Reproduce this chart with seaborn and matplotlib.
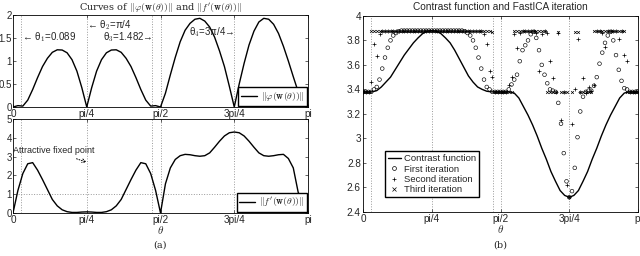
import numpy as np
import matplotlib
matplotlib.use('Agg')
import matplotlib.pyplot as plt
import seaborn as sns
from matplotlib.lines import Line2D

sns.set_style('white')
plt.rcParams.update({'font.family': ['Liberation Sans', 'DejaVu Sans'],
                     'font.size': 7.5, 'mathtext.fontset': 'cm',
                     'axes.edgecolor': 'black', 'axes.linewidth': 0.6})

# ---- data ------------------------------------------------------------------
# curves sampled every 3 degrees, 0..180
theta_deg = np.arange(0, 181, 3)

phi_norm = [0, 0.03, 0.02, 0.15, 0.38, 0.64, 0.88, 1.06, 1.19, 1.245, 1.24,
            1.18, 1.03, 0.78, 0.42, 0.0, 0.42, 0.78, 1.03, 1.18, 1.24, 1.245,
            1.19, 1.06, 0.88, 0.64, 0.38, 0.15, 0.02, 0.03, 0.0, 0.30, 0.70,
            1.08, 1.42, 1.67, 1.82, 1.91, 1.93, 1.87, 1.74, 1.52, 1.22, 0.88,
            0.45, 0.0, 0.50, 0.95, 1.35, 1.65, 1.85, 1.93, 1.91, 1.80, 1.60,
            1.32, 1.00, 0.66, 0.33, 0.10, 0.0]

fprime_norm = [0, 1.2, 2.1, 2.62, 2.68, 2.28, 1.78, 1.25, 0.72, 0.38, 0.17,
               0.07, 0.03, 0.03, 0.05, 0.06, 0.05, 0.03, 0.03, 0.07, 0.17,
               0.38, 0.72, 1.25, 1.78, 2.28, 2.68, 2.62, 2.1, 1.2, 0.0, 1.55,
               2.4, 2.85, 3.05, 3.12, 3.1, 3.05, 3.02, 3.05, 3.2, 3.5, 3.82,
               4.1, 4.27, 4.31, 4.27, 4.1, 3.82, 3.5, 3.2, 3.05, 3.02, 3.05,
               3.1, 3.12, 2.9, 2.4, 1.1, 0.55, 0.0]

contrast = [3.38, 3.38, 3.38, 3.39, 3.42, 3.46, 3.50, 3.56, 3.62, 3.68, 3.73,
            3.78, 3.82, 3.855, 3.875, 3.88, 3.875, 3.855, 3.82, 3.78, 3.72,
            3.65, 3.58, 3.51, 3.46, 3.42, 3.40, 3.385, 3.38, 3.38, 3.38, 3.38,
            3.38, 3.37, 3.33, 3.26, 3.19, 3.11, 3.02, 2.92, 2.83, 2.73, 2.65,
            2.575, 2.535, 2.52, 2.535, 2.575, 2.65, 2.73, 2.83, 2.92, 3.02,
            3.11, 3.19, 3.26, 3.33, 3.37, 3.38, 3.38, 3.38]

# FastICA iterates on a 101-point grid over [0, pi]
first_iter = ([3.38] * 4 + [3.40, 3.42, 3.48, 3.57, 3.66, 3.74, 3.80, 3.84,
              3.86, 3.875] + [3.88] * 23 +
              [3.875, 3.86, 3.84, 3.80, 3.74, 3.66, 3.57, 3.48, 3.42, 3.40] +
              [3.38] * 6 +
              [3.40, 3.44, 3.48, 3.52, 3.63, 3.72, 3.76, 3.80, 3.85, 3.87,
               3.82, 3.72, 3.60, 3.52, 3.45, 3.40, 3.39, 3.38, 3.29, 3.12,
               2.88, 2.65, 2.52, 2.57, 2.76, 3.01, 3.22, 3.34, 3.38, 3.39,
               3.39, 3.43, 3.50, 3.61, 3.70, 3.78, 3.84, 3.87, 3.80, 3.68,
               3.56, 3.47, 3.41, 3.40] + [3.38] * 4)

second_iter = ([3.38] * 3 + [3.46, 3.77, 3.67, 3.85] + [3.88] * 37 +
               [3.85, 3.77, 3.55, 3.50] + [3.38] * 5 +
               [3.44, 3.50, 3.85, 3.74, 3.86] + [3.88] * 5 +
               [3.86, 3.55, 3.85, 3.88, 3.86, 3.63, 3.49, 3.38, 3.86, 3.15,
                3.38, 2.62, 2.52, 3.12, 3.40, 3.81, 3.38, 3.49, 3.37, 3.42,
                3.39, 3.44, 3.88, 3.88, 3.86, 3.75] + [3.88] * 4 +
               [3.81, 3.88, 3.68, 3.63] + [3.38] * 4)

third_iter = ([3.38] * 3 + [3.88] * 44 + [3.87] + [3.38] * 7 + [3.88] * 12 +
              [3.38] * 4 + [3.87] + [3.38] * 3 + [2.52] + [3.38] +
              [3.87] * 2 + [3.38] * 5 + [3.88] * 12 + [3.38] * 5)

iter_grid = np.linspace(0, np.pi, len(first_iter))

fixed_points = [0.089, np.pi / 4, 1.482, np.pi / 2, 3 * np.pi / 4]
xtick_pos = [0, np.pi / 4, np.pi / 2, 3 * np.pi / 4, np.pi]
xtick_lab = ['0', 'pi/4', 'pi/2', '3pi/4', 'pi']

theta = np.deg2rad(theta_deg)

# ---- figure -----------------------------------------------------------------
fig = plt.figure(figsize=(6.4, 2.56), dpi=100)
ax1 = fig.add_axes([0.0203, 0.582, 0.461, 0.359])
ax2 = fig.add_axes([0.0203, 0.168, 0.461, 0.367])
ax3 = fig.add_axes([0.5672, 0.172, 0.4297, 0.766])

grid_kw = dict(color='0.6', linestyle=':', linewidth=0.7, zorder=0)

for ax in (ax1, ax2, ax3):
    for fp in fixed_points:
        ax.axvline(fp, **grid_kw)
    ax.set_xlim(0, np.pi)
    ax.set_xticks(xtick_pos)
    ax.set_xticklabels(xtick_lab)
    ax.tick_params(direction='in', length=2.5, width=0.5, pad=1.5,
                   top=True, right=True, bottom=True, left=True,
                   labelsize=7.2)
for ax in (ax1, ax2):
    ax.tick_params(axis='y', pad=0.8, labelsize=7)

# top left: ||phi(w(theta))||
sns.lineplot(x=theta, y=phi_norm, ax=ax1, color='k', linewidth=1.0,
             estimator=None, sort=False)
ax1.set_ylim(0, 2)
ax1.set_yticks([0, 0.5, 1, 1.5, 2])
ax1.set_yticklabels(['0', '0.5', '1', '1.5', '2'])
ax1.set_title(r'Curves of $\Vert\varphi(\mathbf{w}(\theta))\Vert$ and '
              r'$\Vert f^{\prime}(\mathbf{w}(\theta))\Vert$',
              family='DejaVu Serif', fontsize=7, pad=3)
ax1.text(0.096, 1.52, '← θ$_1$=0.089', fontsize=7, ha='left', va='center')
ax1.text(0.788, 1.78, '← θ$_2$=π/4', fontsize=7, ha='left', va='center')
ax1.text(1.491, 1.52, 'θ$_3$=1.482→', fontsize=7, ha='right', va='center')
ax1.text(2.364, 1.63, 'θ$_4$=3π/4→', fontsize=7, ha='right', va='center')
ax1.legend([Line2D([], [], color='k', lw=1.0)],
           [r'$\Vert\varphi(\mathbf{w}(\theta))\Vert$'],
           loc='lower right', fontsize=7, fancybox=False, framealpha=1,
           edgecolor='k', borderpad=0.3, handlelength=1.6, handletextpad=0.4,
           borderaxespad=0.1)

# bottom left: ||f'(w(theta))||
sns.lineplot(x=theta, y=fprime_norm, ax=ax2, color='k', linewidth=1.0,
             estimator=None, sort=False)
ax2.axhline(1, **grid_kw)
ax2.set_ylim(0, 5)
ax2.set_yticks([0, 1, 2, 3, 4, 5])
ax2.set_xlabel(r'$\theta$', fontsize=8, labelpad=-1)
ax2.annotate('Attractive fixed point', xy=(np.pi / 4, 2.7),
             xytext=(0.0, 3.3), fontsize=6.5, ha='left', va='center',
             arrowprops=dict(arrowstyle='->', linestyle=':', lw=0.7,
                             color='k', shrinkA=0, shrinkB=0))
ax2.legend([Line2D([], [], color='k', lw=1.0)],
           [r'$\Vert f^{\prime}(\mathbf{w}(\theta))\Vert$'],
           loc='lower right', fontsize=7, fancybox=False, framealpha=1,
           edgecolor='k', borderpad=0.3, handlelength=1.6, handletextpad=0.4,
           borderaxespad=0.1)

# right: contrast function and FastICA iterations
sns.lineplot(x=theta, y=contrast, ax=ax3, color='k', linewidth=1.0,
             estimator=None, sort=False, zorder=2)
sns.scatterplot(x=iter_grid, y=first_iter, ax=ax3, marker='o', s=7,
                color='k', facecolors='none', edgecolor='k', linewidths=0.45,
                zorder=3)
sns.scatterplot(x=iter_grid, y=second_iter, ax=ax3, marker='+', s=8,
                color='k', linewidths=0.5, zorder=3)
sns.scatterplot(x=iter_grid, y=third_iter, ax=ax3, marker='x', s=4,
                color='k', linewidths=0.5, zorder=3)
ax3.set_ylim(2.4, 4)
ax3.set_yticks([2.4, 2.6, 2.8, 3, 3.2, 3.4, 3.6, 3.8, 4])
ax3.set_yticklabels(['2.4', '2.6', '2.8', '3', '3.2', '3.4', '3.6', '3.8', '4'])
ax3.set_xlabel(r'$\theta$', fontsize=8, labelpad=-1)
ax3.set_title('Contrast function and FastICA iteration', fontsize=7.3, pad=4)
handles = [Line2D([], [], color='k', lw=1.0),
           Line2D([], [], color='k', ls='', marker='o', ms=2.8, mfc='none', mew=0.5),
           Line2D([], [], color='k', ls='', marker='+', ms=3, mew=0.5),
           Line2D([], [], color='k', ls='', marker='x', ms=2.2, mew=0.5)]
ax3.legend(handles, ['Contrast function', 'First iteration',
                     'Second iteration', 'Third iteration'],
           loc='lower left', bbox_to_anchor=(0.08, 0.075), fontsize=6.8,
           fancybox=False, framealpha=1, edgecolor='k', borderpad=0.3,
           handlelength=1.4, handletextpad=0.35, labelspacing=0.15,
           borderaxespad=0)

fig.text(0.25, 0.035, '(a)', family='DejaVu Serif', fontsize=7, ha='center')
fig.text(0.781, 0.035, '(b)', family='DejaVu Serif', fontsize=7, ha='center')

fig.savefig('out.png', dpi=100)
